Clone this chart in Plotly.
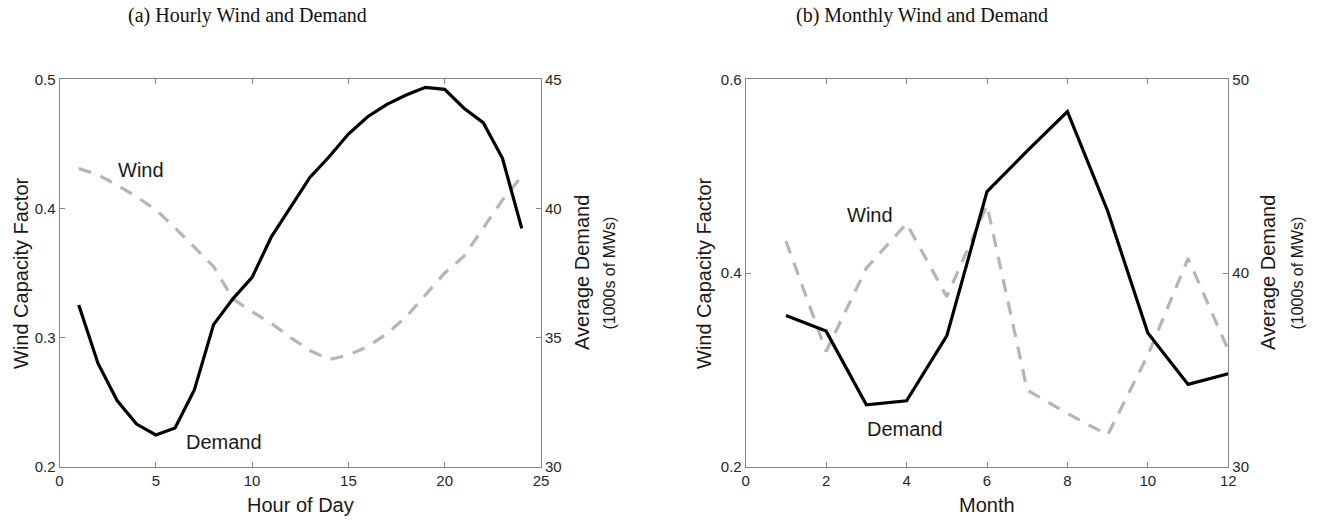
import plotly.graph_objects as go

# ---------------- data ----------------
hours = list(range(1, 25))
hourly_wind = [0.431, 0.426, 0.418, 0.409, 0.399, 0.385, 0.370, 0.355, 0.330, 0.320,
               0.311, 0.300, 0.290, 0.283, 0.2865, 0.293, 0.303, 0.316, 0.333, 0.350,
               0.363, 0.385, 0.4065, 0.425]
hourly_demand = [36.26, 34.0, 32.55, 31.65, 31.23, 31.5, 32.97, 35.5, 36.5, 37.33,
                 38.9, 40.07, 41.2, 42.0, 42.88, 43.55, 44.03, 44.39, 44.69, 44.61,
                 43.88, 43.32, 41.94, 39.23]

months = list(range(1, 13))
monthly_wind = [0.433, 0.319, 0.405, 0.451, 0.3756, 0.470, 0.279, 0.255, 0.2327,
                0.3153, 0.415, 0.3205]
monthly_demand = [37.8, 37.0, 33.2, 33.4, 36.75, 44.2, 46.3, 48.33, 43.2, 36.9,
                  34.25, 34.8]

hour_ticks = [0, 5, 10, 15, 20, 25]
hour_wind_ticks = [0.2, 0.3, 0.4, 0.5]
hour_demand_ticks = [30, 35, 40, 45]
month_ticks = [0, 2, 4, 6, 8, 10, 12]
month_wind_ticks = [0.2, 0.4, 0.6]
month_demand_ticks = [30, 40, 50]

titles = ["(a) Hourly Wind and Demand", "(b) Monthly Wind and Demand"]

# ---------------- layout helpers ----------------
W, H = 1320, 521
def fx(p):
    return p / W
def fy(p):
    return 1 - p / H

AX_COLOR = "#858585"
TICK_FONT = dict(family="Liberation Sans, Arial, sans-serif", size=15, color="#262626")
LABEL_FONT = dict(family="Liberation Sans, Arial, sans-serif", size=20, color="#1a1a1a")
SMALL_FONT = dict(family="Liberation Sans, Arial, sans-serif", size=16, color="#1a1a1a")
TITLE_FONT = dict(family="Liberation Serif, DejaVu Serif, serif", size=20, color="#111111")

WIND_COLOR = "#b5b5b5"
DEMAND_COLOR = "#000000"

left_dom = [fx(59.5), fx(541)]
right_dom = [fx(745.7), fx(1228.3)]
y_dom = [fy(466.7), fy(79.3)]

fig = go.Figure()

fig.add_trace(go.Scatter(x=hours, y=hourly_wind, mode="lines", xaxis="x", yaxis="y",
                         line=dict(color=WIND_COLOR, width=3.2, dash="13px,10px"),
                         showlegend=False, hoverinfo="skip"))
fig.add_trace(go.Scatter(x=hours, y=hourly_demand, mode="lines", xaxis="x", yaxis="y2",
                         line=dict(color=DEMAND_COLOR, width=3.2),
                         showlegend=False, hoverinfo="skip"))
fig.add_trace(go.Scatter(x=months, y=monthly_wind, mode="lines", xaxis="x2", yaxis="y3",
                         line=dict(color=WIND_COLOR, width=3.2, dash="13px,10px"),
                         showlegend=False, hoverinfo="skip"))
fig.add_trace(go.Scatter(x=months, y=monthly_demand, mode="lines", xaxis="x2", yaxis="y4",
                         line=dict(color=DEMAND_COLOR, width=3.2),
                         showlegend=False, hoverinfo="skip"))

common = dict(showgrid=False, zeroline=False, showline=True, linecolor=AX_COLOR,
              linewidth=1, ticks="inside", ticklen=5, tickcolor=AX_COLOR,
              tickfont=TICK_FONT, automargin=False)

fig.update_layout(
    template="none",
    width=W, height=H,
    margin=dict(l=0, r=0, t=0, b=0, autoexpand=False),
    paper_bgcolor="white", plot_bgcolor="white",
    xaxis=dict(domain=left_dom, range=[0, 25], tickvals=hour_ticks, anchor="y",
               mirror="ticks", **common),
    yaxis=dict(domain=y_dom, range=[0.2, 0.5], tickvals=hour_wind_ticks, anchor="x",
               side="left", **common),
    yaxis2=dict(range=[30, 45], tickvals=hour_demand_ticks, anchor="x",
                overlaying="y", side="right", **common),
    xaxis2=dict(domain=right_dom, range=[0, 12], tickvals=month_ticks, anchor="y3",
                mirror="ticks", **common),
    yaxis3=dict(domain=y_dom, range=[0.2, 0.6], tickvals=month_wind_ticks, anchor="x2",
                side="left", **common),
    yaxis4=dict(range=[30, 50], tickvals=month_demand_ticks, anchor="x2",
                overlaying="y3", side="right", **common),
)

ann = []
# titles
ann.append(dict(text=titles[0], x=fx(247), y=fy(15), xref="paper", yref="paper",
                xanchor="center", yanchor="middle", showarrow=False, font=TITLE_FONT))
ann.append(dict(text=titles[1], x=fx(922), y=fy(15), xref="paper", yref="paper",
                xanchor="center", yanchor="middle", showarrow=False, font=TITLE_FONT))
# axis titles
for xc, txt in [(300, "Hour of Day"), (987, "Month")]:
    ann.append(dict(text=txt, x=fx(xc), y=fy(505), xref="paper", yref="paper",
                    xanchor="center", yanchor="middle", showarrow=False, font=LABEL_FONT))
for xc in [21, 704]:
    ann.append(dict(text="Wind Capacity Factor", x=fx(xc), y=fy(273), xref="paper",
                    yref="paper", xanchor="center", yanchor="middle", textangle=-90,
                    showarrow=False, font=LABEL_FONT))
for xc, xs in [(582, 608.5), (1268, 1296.5)]:
    ann.append(dict(text="Average Demand", x=fx(xc), y=fy(273), xref="paper",
                    yref="paper", xanchor="center", yanchor="middle", textangle=-90,
                    showarrow=False, font=LABEL_FONT))
    ann.append(dict(text="(1000s of MWs)", x=fx(xs), y=fy(273), xref="paper",
                    yref="paper", xanchor="center", yanchor="middle", textangle=-90,
                    showarrow=False, font=SMALL_FONT))
# series labels
ann.append(dict(text="Wind", x=4.23, y=0.43, xref="x", yref="y", showarrow=False,
                xanchor="center", yanchor="middle", font=LABEL_FONT))
ann.append(dict(text="Demand", x=8.54, y=0.2193, xref="x", yref="y", showarrow=False,
                xanchor="center", yanchor="middle", font=LABEL_FONT))
ann.append(dict(text="Wind", x=3.09, y=0.46, xref="x2", yref="y3", showarrow=False,
                xanchor="center", yanchor="middle", font=LABEL_FONT))
ann.append(dict(text="Demand", x=3.96, y=0.239, xref="x2", yref="y3", showarrow=False,
                xanchor="center", yanchor="middle", font=LABEL_FONT))

fig.update_layout(annotations=ann)

fig.write_html("out.html")
